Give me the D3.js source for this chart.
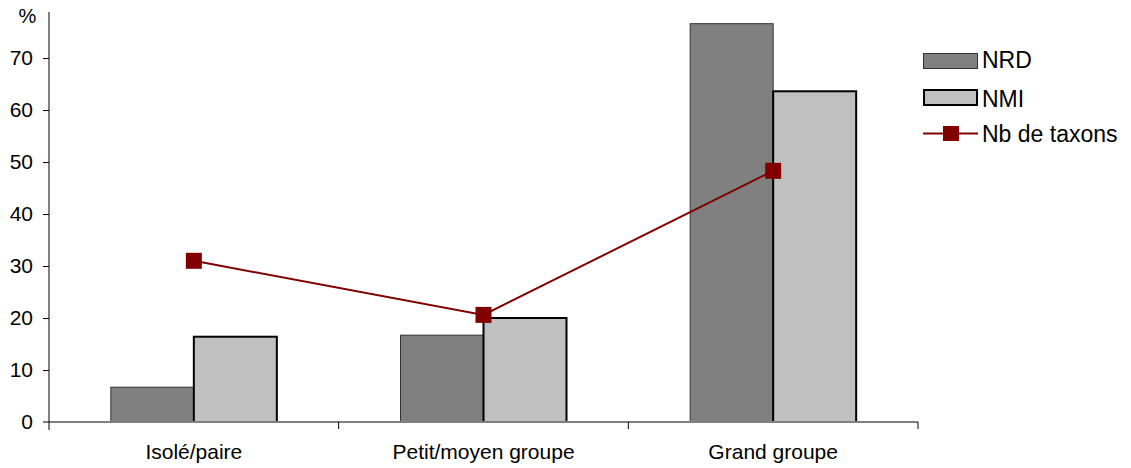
<!DOCTYPE html>
<html><head><meta charset="utf-8">
<script src="https://cdn.jsdelivr.net/npm/d3@7/dist/d3.min.js"></script>
<style>body{margin:0;background:#fff}svg{display:block;font-family:"Liberation Sans",Arial,sans-serif}</style>
</head><body><svg id="c" width="1131" height="468"></svg>
<script>
const categories = ["Isolé/paire", "Petit/moyen groupe", "Grand groupe"];
const nrd = [6.7, 16.7, 76.6];
const nmi = [16.4, 20.0, 63.6];
const taxons = [31.0, 20.6, 48.3];
const yTicks = [0, 10, 20, 30, 40, 50, 60, 70];

const svg = d3.select("#c");
const FONT = "Liberation Sans, Arial, sans-serif";
const left = 49, right = 918, bottom = 422;
const y = d3.scaleLinear().domain([0, 70]).range([bottom, 58]);
const x = d3.scaleBand().domain(categories).range([left, right]);
const sub = d3.scaleBand().domain(["NRD", "NMI"]).range([0, 166]);

// bars
const g = svg.append("g");
categories.forEach((c, i) => {
  const x0 = x(c) + x.bandwidth() / 2 - 83;
  g.append("rect").attr("x", x0 + sub("NRD")).attr("y", y(nrd[i]))
    .attr("width", sub.bandwidth()).attr("height", bottom - y(nrd[i]))
    .attr("fill", "#808080").attr("stroke", "#333").attr("stroke-width", 1);
});
categories.forEach((c, i) => {
  const x0 = x(c) + x.bandwidth() / 2 - 83;
  g.append("rect").attr("x", x0 + sub("NMI")).attr("y", y(nmi[i]))
    .attr("width", sub.bandwidth()).attr("height", bottom - y(nmi[i]))
    .attr("fill", "#c0c0c0").attr("stroke", "#000").attr("stroke-width", 2);
});

// x axis
const xa = svg.append("g").attr("transform", `translate(0,${bottom})`)
  .call(d3.axisBottom(x).tickSize(0).tickPadding(22));
xa.select(".domain").attr("stroke", "#808080").attr("stroke-width", 2).attr("d", `M${left - 6},0H${right}`);
xa.selectAll("text").attr("font-size", 21).attr("fill", "#000").attr("font-family", FONT);
[left + x.step(), left + 2 * x.step(), right].forEach(v => {
  svg.append("line").attr("x1", v).attr("x2", v).attr("y1", bottom).attr("y2", bottom + 7).attr("stroke", "#000");
});

// y axis
const ya = svg.append("g").attr("transform", `translate(${left},0)`)
  .call(d3.axisLeft(y).tickValues(yTicks).tickSize(6).tickPadding(10));
ya.select(".domain").attr("d", `M0,12V${bottom + 8}`).attr("stroke", "#000");
ya.selectAll(".tick line").filter(d => d === 0).remove();
ya.selectAll("text").attr("font-size", 21).attr("fill", "#000").attr("font-family", FONT);
svg.append("text").attr("x", 27.5).attr("y", 23).attr("text-anchor", "middle").attr("font-size", 20).text("%");

// line
const cx = c => x(c) + x.bandwidth() / 2;
svg.append("path").datum(taxons)
  .attr("d", d3.line().x((d, i) => cx(categories[i])).y(d => y(d)))
  .attr("fill", "none").attr("stroke", "#800000").attr("stroke-width", 2);
svg.selectAll(".m").data(taxons).enter().append("rect")
  .attr("x", (d, i) => cx(categories[i]) - 8).attr("y", d => y(d) - 8)
  .attr("width", 16).attr("height", 16).attr("fill", "#800000");

// legend
const lg = svg.append("g").attr("font-size", 23);
lg.append("rect").attr("x", 923.5).attr("y", 53.5).attr("width", 54).attr("height", 15).attr("fill", "#808080").attr("stroke", "#333");
lg.append("text").attr("x", 982).attr("y", 68).text("NRD");
lg.append("rect").attr("x", 924).attr("y", 90).attr("width", 53).attr("height", 15).attr("fill", "#c0c0c0").attr("stroke", "#000").attr("stroke-width", 2);
lg.append("text").attr("x", 982).attr("y", 107).text("NMI");
lg.append("line").attr("x1", 923).attr("x2", 978).attr("y1", 133.5).attr("y2", 133.5).attr("stroke", "#800000").attr("stroke-width", 2);
lg.append("rect").attr("x", 943).attr("y", 126).attr("width", 16).attr("height", 15).attr("fill", "#800000");
lg.append("text").attr("x", 982).attr("y", 142).text("Nb de taxons");
</script></body></html>
